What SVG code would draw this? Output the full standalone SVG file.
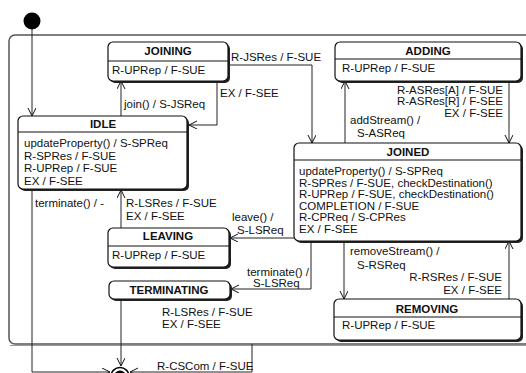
<svg xmlns="http://www.w3.org/2000/svg" width="526" height="373" viewBox="0 0 526 373">
<style>
text{font-family:"Liberation Sans",Arial,sans-serif;font-size:11.5px;fill:#111}
.t{font-weight:bold;text-anchor:middle}
.r{text-anchor:end}
.box{fill:#fff;stroke:#111;stroke-width:1.2}
.sh{fill:#222}
.div{stroke:#111;stroke-width:1}
.c{fill:none;stroke:#222;stroke-width:1}
</style>
<defs>
<marker id="a" markerUnits="userSpaceOnUse" markerWidth="10" markerHeight="10" refX="8" refY="4" orient="auto">
<path d="M0,0 L8,4 L0,8" fill="none" stroke="#111" stroke-width="1"/>
</marker>
</defs>
<rect x="9" y="35" width="540" height="309" rx="6" fill="none" stroke="#555" stroke-width="1.5"/>
<line x1="10" y1="345.5" x2="526" y2="345.5" stroke="#999" stroke-width="1"/>

<g id="initial"><circle cx="32" cy="21" r="8.5" fill="#000"/></g>
<g id="final"><circle cx="120" cy="376.5" r="9" fill="#fff" stroke="#000" stroke-width="1.5"/><circle cx="120" cy="376.5" r="6" fill="#000"/></g>

<g id="connectors">
<path class="c" d="M32,29 V116" marker-end="url(#a)"/>
<path class="c" d="M121,116 V81" marker-end="url(#a)"/>
<text x="124" y="108">join() / S-JSReq</text>
<path class="c" d="M217,81 V125 H189" marker-end="url(#a)"/>
<text x="220" y="97">EX / F-SEE</text>
<path class="c" d="M229,65 H312 V143" marker-end="url(#a)"/>
<text x="231" y="61">R-JSRes / F-SUE</text>
<path class="c" d="M345,143 V81" marker-end="url(#a)"/>
<text x="350" y="124">addStream() /</text>
<text x="357" y="137">S-ASReq</text>
<path class="c" d="M509,81 V143" marker-end="url(#a)"/>
<text class="r" x="503" y="93.5">R-ASRes[A] / F-SUE</text>
<text class="r" x="503" y="105">R-ASRes[R] / F-SEE</text>
<text class="r" x="503" y="116.5">EX / F-SEE</text>
<path class="c" d="M294,238 H230" marker-end="url(#a)"/>
<text x="232" y="220.5">leave() /</text>
<text x="237" y="234">S-LSReq</text>
<path class="c" d="M311,241 V289 H231" marker-end="url(#a)"/>
<text x="247" y="275.5">terminate() /</text>
<text x="253" y="287">S-LSReq</text>
<path class="c" d="M121,228 V190" marker-end="url(#a)"/>
<text x="126" y="206.5">R-LSRes / F-SUE</text>
<text x="126" y="220">EX / F-SEE</text>
<path class="c" d="M32,190 V372 H110" marker-end="url(#a)"/>
<text x="35" y="206.5">terminate() / -</text>
<path class="c" d="M121,299 V366" marker-end="url(#a)"/>
<text x="162" y="316">R-LSRes / F-SUE</text>
<text x="162" y="327.5">EX / F-SEE</text>
<path class="c" d="M252,344 V372 H130" marker-end="url(#a)"/>
<text x="157" y="369.5">R-CSCom / F-SUE</text>
<path class="c" d="M344,241 V299" marker-end="url(#a)"/>
<text x="350" y="255">removeStream() /</text>
<text x="357" y="268.5">S-RSReq</text>
<path class="c" d="M509,299 V241" marker-end="url(#a)"/>
<text class="r" x="502" y="280.5">R-RSRes / F-SUE</text>
<text class="r" x="502" y="294">EX / F-SEE</text>
</g>

<g id="joining">
<rect class="sh" x="110" y="44" width="120" height="39" rx="5"/>
<rect class="box" x="108" y="42" width="120" height="39" rx="5"/>
<line class="div" x1="108" y1="61" x2="228" y2="61"/>
<text class="t" x="168" y="55">JOINING</text>
<text x="112" y="74">R-UPRep / F-SUE</text>
</g>

<g id="idle">
<rect class="sh" x="20" y="118" width="169" height="73" rx="5"/>
<rect class="box" x="18" y="116" width="169" height="73" rx="5"/>
<line class="div" x1="18" y1="132" x2="187" y2="132"/>
<text class="t" x="103" y="128">IDLE</text>
<text x="24" y="147">updateProperty() / S-SPReq</text>
<text x="24" y="159.5">R-SPRes / F-SUE</text>
<text x="24" y="172">R-UPRep / F-SUE</text>
<text x="24" y="184.5">EX / F-SEE</text>
</g>

<g id="adding">
<rect class="sh" x="337" y="44" width="186" height="39" rx="5"/>
<rect class="box" x="335" y="42" width="186" height="39" rx="5"/>
<line class="div" x1="335" y1="59" x2="521" y2="59"/>
<text class="t" x="428" y="55">ADDING</text>
<text x="342" y="72">R-UPRep / F-SUE</text>
</g>

<g id="joined">
<rect class="sh" x="296" y="145" width="227" height="98" rx="5"/>
<rect class="box" x="294" y="143" width="227" height="98" rx="5"/>
<line class="div" x1="294" y1="160" x2="521" y2="160"/>
<text class="t" x="408" y="156">JOINED</text>
<text x="299" y="175">updateProperty() / S-SPReq</text>
<text x="299" y="186.5">R-SPRes / F-SUE, checkDestination()</text>
<text x="299" y="198">R-UPRep / F-SUE, checkDestination()</text>
<text x="299" y="209.5">COMPLETION / F-SUE</text>
<text x="299" y="221">R-CPReq / S-CPRes</text>
<text x="299" y="232.5">EX / F-SEE</text>
</g>

<g id="leaving">
<rect class="sh" x="110" y="230" width="121" height="39" rx="5"/>
<rect class="box" x="108" y="228" width="121" height="39" rx="5"/>
<line class="div" x1="108" y1="246" x2="229" y2="246"/>
<text class="t" x="168" y="240">LEAVING</text>
<text x="112" y="259">R-UPRep / F-SUE</text>
</g>

<g id="terminating">
<rect class="sh" x="111" y="283" width="121" height="18" rx="5"/>
<rect class="box" x="109" y="281" width="121" height="18" rx="5"/>
<text class="t" x="169" y="294">TERMINATING</text>
</g>

<g id="removing">
<rect class="sh" x="336" y="301" width="187" height="41" rx="5"/>
<rect class="box" x="334" y="299" width="187" height="41" rx="5"/>
<line class="div" x1="334" y1="317" x2="521" y2="317"/>
<text class="t" x="427" y="313">REMOVING</text>
<text x="342" y="329">R-UPRep / F-SUE</text>
</g>
</svg>
